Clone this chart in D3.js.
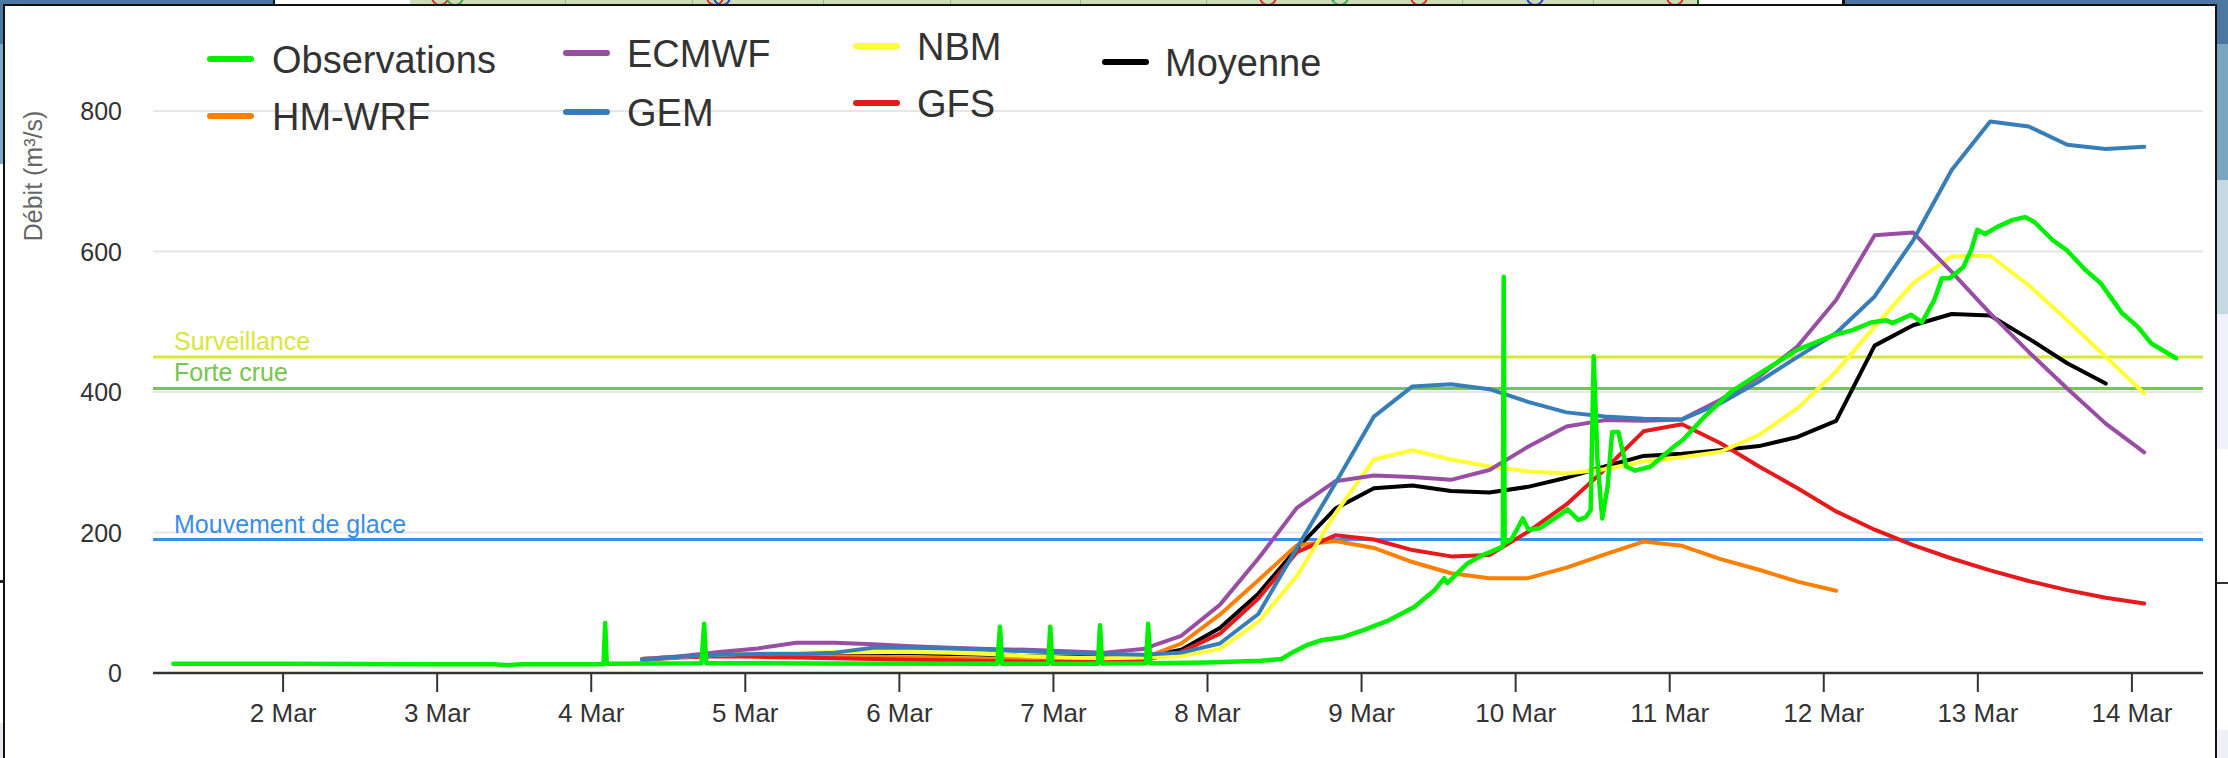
<!DOCTYPE html>
<html><head><meta charset="utf-8">
<script src="https://cdn.jsdelivr.net/npm/d3@7"></script>
<style>html,body{margin:0;padding:0;background:#fff;overflow:hidden}svg{display:block}</style>
</head><body>
<script>
// ---------------- DATA ----------------
const obsTimes = ["2024-03-01 07:00","2024-03-02 00:00","2024-03-03 00:00","2024-03-03 09:00","2024-03-03 11:00","2024-03-03 13:00",
"2024-03-04 02:00","2024-03-04 02:15","2024-03-04 02:30","2024-03-04 17:15","2024-03-04 17:40","2024-03-04 18:00","2024-03-05 12:00",
"2024-03-06 15:20","2024-03-06 15:45","2024-03-06 16:05","2024-03-06 23:15","2024-03-06 23:35","2024-03-06 23:55",
"2024-03-07 07:00","2024-03-07 07:20","2024-03-07 07:40","2024-03-07 14:30","2024-03-07 14:50","2024-03-07 15:10",
"2024-03-08 00:00","2024-03-08 08:24","2024-03-08 11:37","2024-03-08 13:26","2024-03-08 15:36","2024-03-08 18:00","2024-03-08 21:07",
"2024-03-09 00:22","2024-03-09 04:19","2024-03-09 08:17","2024-03-09 09:36","2024-03-09 11:28","2024-03-09 12:58","2024-03-09 13:26",
"2024-03-09 16:34","2024-03-09 18:58","2024-03-09 21:22","2024-03-09 22:05","2024-03-09 22:13","2024-03-09 22:22","2024-03-09 23:25",
"2024-03-10 01:12","2024-03-10 02:05","2024-03-10 03:50","2024-03-10 06:58","2024-03-10 08:10","2024-03-10 09:50","2024-03-10 11:02",
"2024-03-10 11:46","2024-03-10 12:14","2024-03-10 12:50","2024-03-10 13:34","2024-03-10 14:24","2024-03-10 15:07","2024-03-10 16:05",
"2024-03-10 17:17","2024-03-10 18:43","2024-03-10 21:07","2024-03-11 00:43","2024-03-11 02:10","2024-03-11 05:31","2024-03-11 09:36",
"2024-03-11 14:10","2024-03-11 19:55","2024-03-12 01:41","2024-03-12 04:34","2024-03-12 07:26","2024-03-12 09:50","2024-03-12 10:48",
"2024-03-12 13:41","2024-03-12 15:22","2024-03-12 17:17","2024-03-12 18:29","2024-03-12 19:41","2024-03-12 21:50","2024-03-12 23:02",
"2024-03-13 00:00","2024-03-13 01:12","2024-03-13 03:07","2024-03-13 05:31","2024-03-13 07:26","2024-03-13 08:53","2024-03-13 11:46",
"2024-03-13 13:55","2024-03-13 16:48","2024-03-13 19:12","2024-03-13 22:34","2024-03-14 00:58","2024-03-14 03:07","2024-03-14 06:58"];
const obsValues = [13,13,12.5,12.5,11,12.5,
12.5,71,13,14,70,14,13.5,
13,66,13,13,66,13,
13,68,13.5,14,70,14,
15,17.5,20,30,40,47,51,
61,75,94,104,118,135,128,
156,168,177,180,564,185,190,
220,204,206,225,233,218,222,
232,451,300,220,265,343,343,
294,288,294,322,332,365,400,
427,460,481,488,499,502,498,
510,499,531,562,562,578,602,
631,625,635,645,649,642,616,
602,574,555,512,493,469,448];

const forecastTimes = ["2024-03-04 08:00","2024-03-04 14:00","2024-03-04 20:00","2024-03-05 02:00","2024-03-05 08:00","2024-03-05 14:00","2024-03-05 20:00",
"2024-03-06 02:00","2024-03-06 08:00","2024-03-06 14:00","2024-03-06 20:00","2024-03-07 02:00","2024-03-07 08:00","2024-03-07 14:00","2024-03-07 20:00",
"2024-03-08 02:00","2024-03-08 08:00","2024-03-08 14:00","2024-03-08 20:00","2024-03-09 02:00","2024-03-09 08:00","2024-03-09 14:00","2024-03-09 20:00",
"2024-03-10 02:00","2024-03-10 08:00","2024-03-10 14:00","2024-03-10 20:00","2024-03-11 02:00","2024-03-11 08:00","2024-03-11 14:00","2024-03-11 20:00",
"2024-03-12 02:00","2024-03-12 08:00","2024-03-12 14:00","2024-03-12 20:00","2024-03-13 02:00","2024-03-13 08:00","2024-03-13 14:00","2024-03-13 20:00",
"2024-03-14 02:00"];
const hmwrf   = [20,23,25,25,25,24,23,22,21,20,19,18,18,21,42,83,132,182,188,178,158,142,135,135,150,169,187,181,162,147,130,117];
const ecmwf   = [20,24,30,35,43,43,41,38,36,34,33,31,29,34,53,97,163,235,273,281,279,275,289,322,351,360,359,361,389,422,465,531,623,627,571,512,457,405,355,314];
const gem     = [19,23,26,27,27,29,36,36,35,33,31,29,27,26,29,42,84,178,270,365,408,411,404,386,371,365,362,361,384,415,450,484,536,616,716,785,778,752,746,749];
const nbm     = [20,23,26,28,29,30,30,30,29,27,24,22,21,22,24,34,73,138,227,304,317,304,294,287,284,290,301,307,315,339,377,429,493,555,593,594,552,502,450,398];
const gfs     = [19,22,24,23,22,21,20,19,18,17,16,16,16,18,30,56,106,172,196,190,175,166,168,201,240,290,344,354,327,294,263,230,204,182,163,146,131,118,107,99];
const moyenne = [20,23,26,27,28,28,29,28,27,26,24,23,22,22,33,64,113,177,234,263,267,259,257,265,278,294,309,312,317,323,336,359,466,495,511,509,476,441,412];

const seriesNames  = ["Observations","HM-WRF","ECMWF","GEM","NBM","GFS","Moyenne"];
const seriesColors = ["#00f000","#ff7f00","#984ea3","#377eb8","#ffff33","#e41a1c","#000000"];

const thresholdNames  = ["Surveillance","Forte crue","Mouvement de glace"];
const thresholdValues = [450, 405, 190];
const thresholdColors = ["#d8e63a","#74c64e","#3a8de6"];

const yTicks = [0,200,400,600,800];
const xTickDates  = ["2024-03-02","2024-03-03","2024-03-04","2024-03-05","2024-03-06","2024-03-07","2024-03-08","2024-03-09","2024-03-10","2024-03-11","2024-03-12","2024-03-13","2024-03-14"];
const xTickLabels = ["2 Mar","3 Mar","4 Mar","5 Mar","6 Mar","7 Mar","8 Mar","9 Mar","10 Mar","11 Mar","12 Mar","13 Mar","14 Mar"];

// ---------------- LAYOUT ----------------
const W = 2228, H = 758;
const plotL = 153, plotR = 2203;
const parseT = d3.utcParse("%Y-%m-%d %H:%M");
const parseD = d3.utcParse("%Y-%m-%d");
const font = "'Liberation Sans', Arial, Helvetica, sans-serif";

const x = d3.scaleUtc().domain([parseD("2024-03-02"), parseD("2024-03-14")]).range([282.6, 2131.4]);
const y = d3.scaleLinear().domain([0, 800]).range([673, 111]);

const svg = d3.select("body").append("svg").attr("width", W).attr("height", H);

// --- surroundings of the screenshot (window behind) ---
const bg = svg.append("g");
bg.append("rect").attr("x",0).attr("y",0).attr("width",W).attr("height",H).attr("fill","#ffffff");
bg.append("rect").attr("x",0).attr("y",0).attr("width",273).attr("height",6).attr("fill","#4b78a0");
bg.append("rect").attr("x",273).attr("y",0).attr("width",2).attr("height",6).attr("fill","#111");
bg.append("rect").attr("x",410).attr("y",0).attr("width",1287).attr("height",6).attr("fill","#cbdcb6");
[[440,"#d9302a"],[455,"#3aa64a"],[715,"#d9302a"],[722,"#2a40d0"],[1268,"#d9302a"],[1340,"#3aa64a"],[1419,"#d9302a"],[1535,"#2a40d0"],[1675,"#d9302a"]]
  .forEach(([cx,c]) => bg.append("circle").attr("cx",cx).attr("cy",-3).attr("r",8).attr("fill","none").attr("stroke",c).attr("stroke-width",2));
[565,692,823,950,1080,1206,1334,1462,1593].forEach(gx => bg.append("rect").attr("x",gx).attr("y",0).attr("width",1).attr("height",6).attr("fill","#9fb39a"));
bg.append("rect").attr("x",1697).attr("y",0).attr("width",2).attr("height",6).attr("fill","#2a5a2a");
bg.append("rect").attr("x",1842).attr("y",0).attr("width",3).attr("height",6).attr("fill","#111");
bg.append("rect").attr("x",1845).attr("y",0).attr("width",W-1845).attr("height",6).attr("fill","#4b78a0");
// right strip
bg.append("rect").attr("x",2216).attr("y",0).attr("width",12).attr("height",44).attr("fill","#4b78a0");
bg.append("rect").attr("x",2216).attr("y",44).attr("width",12).attr("height",136).attr("fill","#79a5c1");
bg.append("rect").attr("x",2216).attr("y",180).attr("width",12).attr("height",134).attr("fill","#c6d8e2");
bg.append("rect").attr("x",2216).attr("y",314).attr("width",12).attr("height",135).attr("fill","#eef0fb");
bg.append("rect").attr("x",2216).attr("y",582).attr("width",12).attr("height",2).attr("fill","#333");
bg.append("rect").attr("x",2216).attr("y",730).attr("width",12).attr("height",28).attr("fill","#eef0f6");
// left strip
bg.append("rect").attr("x",0).attr("y",0).attr("width",4).attr("height",44).attr("fill","#4b78a0");
bg.append("rect").attr("x",0).attr("y",44).attr("width",4).attr("height",120).attr("fill","#7fa9c4");
bg.append("rect").attr("x",0).attr("y",580).attr("width",4).attr("height",3).attr("fill","#222");
bg.append("rect").attr("x",0).attr("y",723).attr("width",4).attr("height",35).attr("fill","#e6e9f0");
// panel
svg.append("rect").attr("x",4).attr("y",5).attr("width",2212).attr("height",H).attr("fill","#fff")
  .attr("stroke","#111").attr("stroke-width",2);

// --- grid ---
const grid = svg.append("g");
yTicks.filter(v => v > 0).forEach(v => {
  grid.append("line").attr("x1",plotL).attr("x2",plotR).attr("y1",y(v)).attr("y2",y(v))
    .attr("stroke","#e6e6e6").attr("stroke-width",2);
});

// --- y axis labels (via d3 axis) ---
const yAxis = d3.axisLeft(y).tickValues(yTicks).tickSize(0).tickPadding(0).tickFormat(d3.format("d"));
const yg = svg.append("g").attr("transform","translate(122,0)").call(yAxis);
yg.select(".domain").remove();
yg.selectAll("text").attr("font-family",font).attr("font-size",25).attr("fill","#333").attr("x",0).attr("dy","0.35em");

// y axis title
svg.append("text").attr("transform","translate(42,176) rotate(-90)").attr("text-anchor","middle")
  .attr("font-family",font).attr("font-size",25).attr("fill","#666").text("Débit (m³/s)");

// --- threshold plot lines ---
thresholdValues.forEach((v,i) => {
  svg.append("line").attr("x1",plotL).attr("x2",plotR).attr("y1",y(v)).attr("y2",y(v))
    .attr("stroke",thresholdColors[i]).attr("stroke-width",3);
  svg.append("text").attr("x",174).attr("y",y(v)-7).attr("font-family",font).attr("font-size",25)
    .attr("fill",thresholdColors[i]).text(thresholdNames[i]);
});

// --- x axis ---
const xAxis = d3.axisBottom(x).tickValues(xTickDates.map(parseD)).tickSize(19).tickPadding(12)
  .tickFormat((d,i) => xTickLabels[i]);
const xg = svg.append("g").attr("transform",`translate(0,${y(0)})`).call(xAxis);
xg.select(".domain").remove();
xg.selectAll(".tick line").attr("stroke","#333").attr("stroke-width",2);
xg.selectAll("text").attr("font-family",font).attr("font-size",26).attr("fill","#333");
svg.append("line").attr("x1",plotL).attr("x2",plotR).attr("y1",y(0)).attr("y2",y(0)).attr("stroke","#333").attr("stroke-width",2.5);

// --- series ---
const line = d3.line().x(d => x(d[0])).y(d => y(d[1]));
const fTimes = forecastTimes.map(parseT);
const seriesData = [
  obsTimes.map((t,i) => [parseT(t), obsValues[i]]),
  hmwrf.map((v,i) => [fTimes[i], v]),
  ecmwf.map((v,i) => [fTimes[i], v]),
  gem.map((v,i) => [fTimes[i], v]),
  nbm.map((v,i) => [fTimes[i], v]),
  gfs.map((v,i) => [fTimes[i], v]),
  moyenne.map((v,i) => [fTimes[i], v])
];
const drawOrder = [6,1,5,4,2,3,0];
drawOrder.forEach(k => {
  svg.append("path").datum(seriesData[k]).attr("d", line).attr("fill","none")
    .attr("stroke", seriesColors[k]).attr("stroke-width", k === 0 ? 4.5 : 4)
    .attr("stroke-linejoin","round").attr("stroke-linecap","round");
});

// --- legend ---
const legendLayout = [ // [seriesIndex, swatchX, y, textX]
  [0, 207, 59, 272], [1, 207, 116, 272],
  [2, 563, 53, 627], [3, 563, 112, 627],
  [4, 853, 46, 917], [5, 853, 103, 917],
  [6, 1102, 62, 1165]
];
const lg = svg.append("g");
legendLayout.forEach(([k, sx, ly, tx]) => {
  lg.append("line").attr("x1",sx+3).attr("x2",sx+44).attr("y1",ly).attr("y2",ly)
    .attr("stroke",seriesColors[k]).attr("stroke-width",6).attr("stroke-linecap","round");
  lg.append("text").attr("x",tx).attr("y",ly+13.5).attr("font-family",font).attr("font-size",38)
    .attr("fill","#333").text(seriesNames[k]);
});
</script>
</body></html>
